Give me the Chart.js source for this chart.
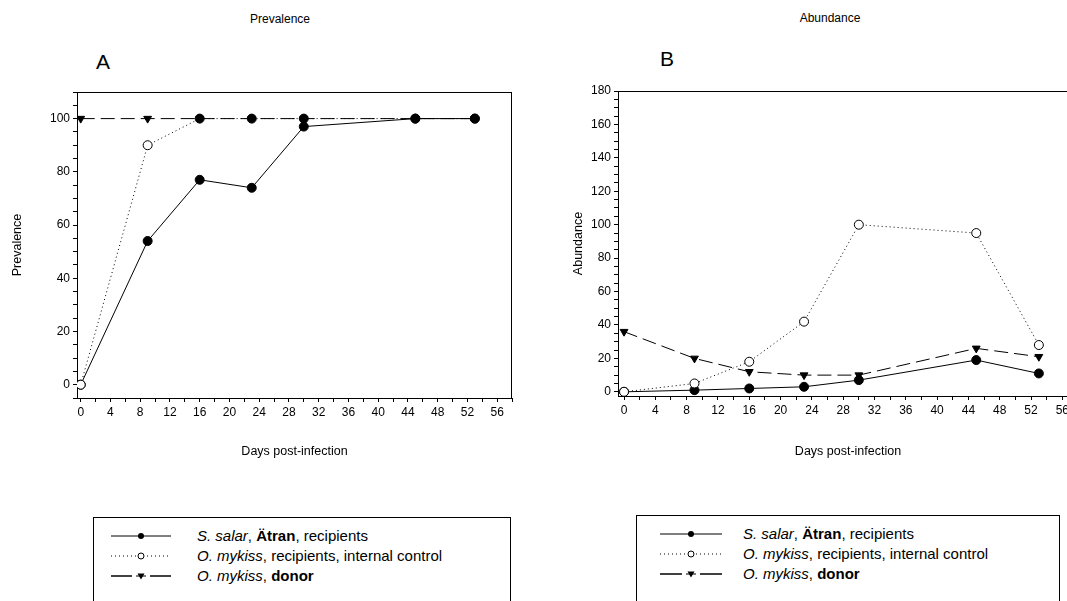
<!DOCTYPE html>
<html>
<head>
<meta charset="utf-8">
<script src="https://cdn.jsdelivr.net/npm/chart.js@4.4.0/dist/chart.umd.min.js"></script>
<style>
  body { margin: 0; width: 1067px; height: 601px; overflow: hidden; background: #fff; position: relative;
         font-family: Arial, "Liberation Sans", sans-serif; color: #000; }
  .t { position: absolute; white-space: nowrap; line-height: 1; }
  .head { font-size: 12px; transform: translate(-50%, -50%); }
  .panel { font-size: 21px; transform: translate(-50%, -50%); }
  canvas { position: absolute; top: 0; }
  .legend { position: absolute; border: 1px solid #000; border-bottom: none; height: 100px; }
  .row { position: absolute; left: 0; height: 16px; font-size: 15px; line-height: 16px; white-space: nowrap; }
  .row svg { position: absolute; top: 3px; }
  .row span.lab { position: absolute; top: 0; }
</style>
</head>
<body>
<div class="t head" style="left:280px; top:19px;">Prevalence</div>
<div class="t head" style="left:830px; top:18px;">Abundance</div>
<div class="t panel" style="left:103px; top:61px;">A</div>
<div class="t panel" style="left:667px; top:58px;">B</div>

<canvas id="chart_a" width="540" height="480" style="left:0px; width:540px; height:480px;"></canvas>
<canvas id="chart_b" width="560" height="480" style="left:540px; width:560px; height:480px;"></canvas>

<div class="legend" id="legend_a" style="left:93px; top:517px; width:416px;"></div>
<div class="legend" id="legend_b" style="left:636px; top:515px; width:422px;"></div>

<script>
// sampling days
var days = [0, 9, 16, 23, 30, 45, 53];

// A - prevalence (%)
var prevSalar  = [0, 54, 77, 74, 97, 100, 100];
var prevMykiss = [0, 90, 100, 100, 100, 100, 100];
var prevDonor  = [100, 100, 100, 100, 100, 100, 100];

// B - abundance
var abunSalar  = [0, 1, 2, 3, 7, 19, 11];
var abunMykiss = [0, 5, 18, 42, 100, 95, 28];
var abunDonor  = [36, 20, 12, 10, 10, 26, 21];

var seriesNames = [
    '<i>S. salar</i>, <b>Ätran</b>, recipients',
    '<i>O. mykiss</i>, recipients, internal control',
    '<i>O. mykiss</i>, <b>donor</b>'
];

function pts(arr) {
    return days.map(function(d, i) { return { x: d, y: arr[i] }; });
}

// frame on top / right of the plot
var framePlugin = {
    id: 'frame',
    afterDraw: function(chart, args, opts) {
        var a = chart.chartArea, ctx = chart.ctx;
        ctx.save();
        ctx.strokeStyle = '#000';
        ctx.lineWidth = 1;
        ctx.beginPath();
        ctx.moveTo(a.left, a.top + 0.5);
        ctx.lineTo(a.right, a.top + 0.5);
        if (opts.right) {
            ctx.moveTo(a.right - 0.5, a.top);
            ctx.lineTo(a.right - 0.5, a.bottom);
        }
        ctx.stroke();
        ctx.restore();
    }
};

function makeDatasets(salar, mykiss, donor, mykissFill) {
    return [
        {
            label: 'S. salar, Ätran, recipients',
            data: pts(salar),
            borderColor: '#000', borderWidth: 1,
            pointStyle: 'circle', pointRadius: 4.5,
            pointBackgroundColor: '#000', pointBorderColor: '#000',
            order: 1
        },
        {
            label: 'O. mykiss, recipients, internal control',
            data: pts(mykiss),
            borderColor: '#000', borderWidth: 1, borderDash: [1, 3],
            pointStyle: 'circle', pointRadius: 4.5,
            pointBackgroundColor: mykissFill, pointBorderColor: '#000', pointBorderWidth: 1,
            order: 0
        },
        {
            label: 'O. mykiss, donor',
            data: pts(donor),
            borderColor: '#000', borderWidth: 1, borderDash: [14, 6],
            pointStyle: 'triangle', pointRotation: 180, pointRadius: 4.5,
            pointBackgroundColor: '#000', pointBorderColor: '#000',
            order: 2
        }
    ];
}

function makeOptions(cfg) {
    var tickFont = { family: 'Arial, "Liberation Sans", sans-serif', size: 12 };
    var titleFont = { family: 'Arial, "Liberation Sans", sans-serif', size: 12.5 };
    return {
        responsive: false,
        animation: false,
        layout: { autoPadding: false, padding: { top: cfg.top, right: cfg.right, left: 0, bottom: 0 } },
        plugins: { legend: { display: false }, tooltip: { enabled: false }, frame: { right: cfg.frameRight } },
        scales: {
            x: {
                type: 'linear', min: cfg.xMin, max: 58,
                border: { display: true, color: '#000', width: 1 },
                grid: { drawOnChartArea: false, tickLength: 4, color: '#000' },
                ticks: {
                    stepSize: 2, includeBounds: false, autoSkip: false, maxRotation: 0,
                    padding: 3, color: '#000', font: tickFont,
                    callback: function(v) { return v % 4 === 0 ? v : ''; }
                },
                title: { display: true, text: 'Days post-infection', color: '#000', font: titleFont,
                         padding: { top: 0, bottom: 21 } },
                afterFit: function(s) { s.height = cfg.xHeight; }
            },
            y: {
                type: 'linear', min: cfg.yMin, max: cfg.yMax,
                border: { display: true, color: '#000', width: 1 },
                grid: { drawOnChartArea: false, tickLength: 4, color: '#000' },
                ticks: {
                    stepSize: 5, includeBounds: false, autoSkip: false,
                    padding: 3, color: '#000', font: tickFont,
                    callback: function(v) { return v % 20 === 0 ? v : ''; }
                },
                title: { display: true, text: cfg.yTitle, color: '#000', font: titleFont,
                         padding: { top: cfg.yTitlePad, bottom: 0 } },
                afterFit: function(s) { s.width = cfg.yWidth; }
            }
        }
    };
}

new Chart(document.getElementById('chart_a'), {
    type: 'line',
    data: { datasets: makeDatasets(prevSalar, prevMykiss, prevDonor,
                                   ['#fff', '#fff', '#000', '#000', '#000', '#000', '#000']) },
    options: makeOptions({ top: 92, right: 28, xHeight: 82, yWidth: 77, xMin: -0.5,
                           yMin: -5, yMax: 110, yTitle: 'Prevalence', yTitlePad: 10, frameRight: true }),
    plugins: [framePlugin]
});

new Chart(document.getElementById('chart_b'), {
    type: 'line',
    data: { datasets: makeDatasets(abunSalar, abunMykiss, abunDonor, '#fff') },
    options: makeOptions({ top: 91, right: 22, xHeight: 84, yWidth: 78, xMin: -0.77,
                           yMin: -2.5, yMax: 180, yTitle: 'Abundance', yTitlePad: 31, frameRight: false }),
    plugins: [framePlugin]
});

// legend boxes
function sampleSvg(kind, w) {
    var mid = w / 2;
    var s = '<svg width="' + w + '" height="10" xmlns="http://www.w3.org/2000/svg">';
    if (kind === 0) {
        s += '<line x1="0" y1="5" x2="' + w + '" y2="5" stroke="#000" stroke-width="1"/>';
        s += '<circle cx="' + mid + '" cy="5" r="3" fill="#000"/>';
    } else if (kind === 1) {
        s += '<line x1="0" y1="5" x2="' + w + '" y2="5" stroke="#000" stroke-width="1" stroke-dasharray="1 3"/>';
        s += '<circle cx="' + mid + '" cy="5" r="3" fill="#fff" stroke="#000" stroke-width="1"/>';
    } else {
        s += '<line x1="0" y1="5" x2="' + (mid - 9) + '" y2="5" stroke="#000" stroke-width="1.5"/>';
        s += '<line x1="' + (mid - 5) + '" y1="5" x2="' + (mid + 5) + '" y2="5" stroke="#000" stroke-width="1"/>';
        s += '<line x1="' + (mid + 9) + '" y1="5" x2="' + w + '" y2="5" stroke="#000" stroke-width="1.5"/>';
        s += '<polygon points="' + (mid - 3.5) + ',2.5 ' + (mid + 3.5) + ',2.5 ' + mid + ',8.5" fill="#000"/>';
    }
    return s + '</svg>';
}

function buildLegend(id, lineLeft, lineW, textLeft) {
    var el = document.getElementById(id);
    var html = '';
    for (var i = 0; i < seriesNames.length; i++) {
        html += '<div class="row" style="top:' + (10 + i * 20) + 'px;">' +
                '<div style="position:absolute; left:' + lineLeft + 'px;">' + sampleSvg(i, lineW) + '</div>' +
                '<span class="lab" style="left:' + textLeft + 'px;">' + seriesNames[i] + '</span></div>';
    }
    el.innerHTML = html;
}

buildLegend('legend_a', 17, 60, 103);
buildLegend('legend_b', 23, 62, 106);
</script>
</body>
</html>
